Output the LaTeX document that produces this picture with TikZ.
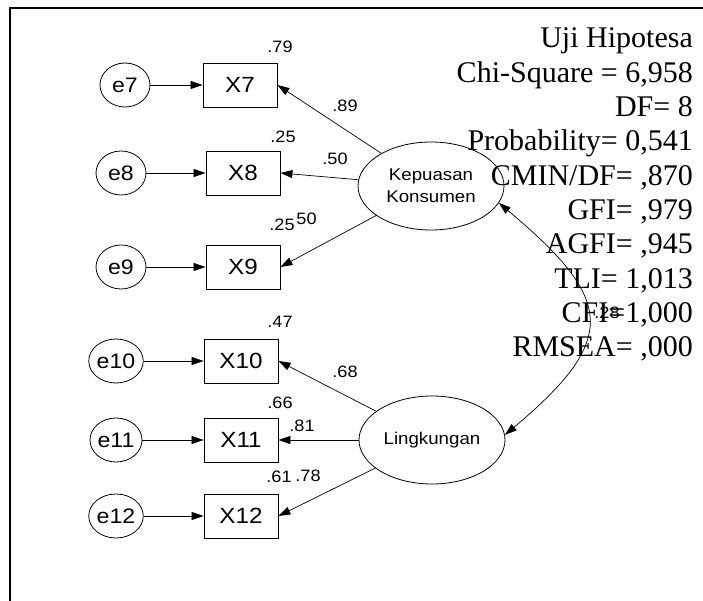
\documentclass[tikz,border=0pt]{standalone}
\usepackage{fontspec}
\newfontfamily\amosfont[FakeStretch=1.1]{Liberation Sans}
\newfontfamily\fitfont{Liberation Serif}
\usetikzlibrary{
    shapes.geometric,
    arrows.meta
}
\tikzset{
    % Observed indicator - plain box
    indicator/.style={
        rectangle,
        draw,
        line width=0.9pt,
        minimum width=74pt,
        minimum height=44pt,
        inner sep=0pt,
        font=\amosfont\fontsize{22}{22}\selectfont,
    },
    % Error term - small ellipse
    errterm/.style={
        ellipse,
        draw,
        line width=0.8pt,
        minimum width=50pt,
        minimum height=44pt,
        inner sep=0pt,
        font=\amosfont\fontsize{21}{21}\selectfont,
    },
    % Latent construct - big ellipse
    latent/.style={
        ellipse,
        draw,
        line width=0.8pt,
        minimum width=146pt,
        minimum height=88pt,
        inner sep=0pt,
        align=center,
        font=\amosfont\fontsize{17}{22}\selectfont,
    },
    % Regression path
    path arrow/.style={
        -{Triangle[length=12pt, width=8pt]},
        line width=0.7pt,
    },
    % Covariance - both ends
    cov arrow/.style={
        {Triangle[length=12pt, width=8pt]}-{Triangle[length=12pt, width=8pt]},
        line width=0.7pt,
    },
    % Estimates on the paths
    estimate/.style={
        font=\amosfont\fontsize{16.5}{16.5}\selectfont,
        inner sep=0pt,
    },
    % Fit summary lines
    fit line/.style={
        font=\fitfont\fontsize{30}{30}\selectfont,
        inner sep=0pt,
        anchor=base east,
    },
    frame/.style={
        line width=1.6pt,
    },
}

\begin{document}
\begin{tikzpicture}[x=1pt, y=-1pt]
    \useasboundingbox (0,0) rectangle (703,601);
    \draw [frame] (10,601) -- (10,8) -- (703,8);

    % indicators of Kepuasan Konsumen
    \node (e7) [errterm] at (125,85) {e7};
    \node (X7) [indicator] at (240,85) {X7};
    \node (e8) [errterm] at (121,173) {e8};
    \node (X8) [indicator] at (243,173) {X8};
    \node (e9) [errterm] at (121,267) {e9};
    \node (X9) [indicator] at (243,267) {X9};

    % indicators of Lingkungan
    \node (e10) [errterm] at (116,361) {e10};
    \node (X10) [indicator] at (241,361) {X10};
    \node (e11) [errterm] at (116,440) {e11};
    \node (X11) [indicator] at (241,440) {X11};
    \node (e12) [errterm] at (116,516) {e12};
    \node (X12) [indicator] at (241,516) {X12};

    \node (kepuasan) [latent] at (431,186) {Kepuasan\\Konsumen};
    \node (lingkungan) [latent] at (432,440) {Lingkungan};

    \foreach \i in {7,...,12}
        \draw [path arrow] (e\i) -- (X\i);

    \draw [path arrow] (kepuasan) -- (X7.east);
    \draw [path arrow] (kepuasan) -- (X8.east);
    \draw [path arrow] (kepuasan) -- (X9.east);
    \draw [path arrow] (lingkungan) -- (X10.east);
    \draw [path arrow] (lingkungan) -- (X11.east);
    \draw [path arrow] (lingkungan) -- (X12.east);

    \draw [cov arrow] (kepuasan.-14) to [out=-40, in=40, looseness=1.65] (lingkungan.4);

    % squared multiple correlations
    \node (r7) [estimate] at (280,47) {.79};
    \node (r8) [estimate] at (283,137) {.25};
    \node (w9) [estimate] at (304,219) {.50};
    \node (r9) [estimate, fill=white, inner sep=0.5pt] at (282,225) {.25};
    \node (r10) [estimate] at (280,322) {.47};
    \node (r11) [estimate] at (280,403) {.66};
    \node (r12) [estimate] at (279,477) {.61};

    % loadings
    \node (w7) [estimate] at (345,106) {.89};
    \node (w8) [estimate] at (335,159) {.50};
    \node (w10) [estimate] at (345,372) {.68};
    \node (w11) [estimate] at (302,426) {.81};
    \node (w12) [estimate] at (308,476) {.78};
    \node (cov) [estimate] at (607,313) {.28};

    % fit summary
    \foreach \txt [count=\k] in {Uji Hipotesa, {Chi-Square = 6,958}, {DF= 8},
        {Probability= 0,541}, {CMIN/DF= ,870}, {GFI= ,979}, {AGFI= ,945},
        {TLI= 1,013}, {CFI=1,000}, {RMSEA= ,000}}
        \node (fit\k) [fit line] at (693,{48+34.3*(\k-1)}) {\txt};
\end{tikzpicture}
\end{document}
